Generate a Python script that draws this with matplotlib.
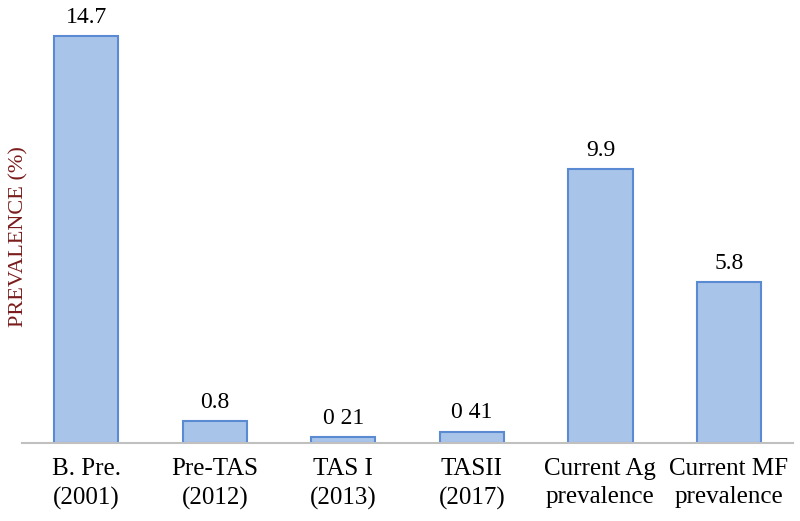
import matplotlib.pyplot as plt
import numpy as np

categories = ['B. Pre.\n(2001)', 'Pre-TAS\n(2012)', 'TAS I\n(2013)', 'TASII\n(2017)',
              'Current Ag\nprevalence', 'Current MF\nprevalence']
values = [14.7, 0.8, 0.21, 0.41, 9.9, 5.8]
value_labels = ['14.7', '0.8', '0 21', '0 41', '9.9', '5.8']

plt.rcParams['font.family'] = ['Liberation Serif', 'DejaVu Serif']

fig = plt.figure(figsize=(8, 5.21), dpi=100)
ax = fig.add_axes([0.0275, 0.1497, 0.964, 0.8503])

x = np.arange(len(categories))
bars = ax.bar(x, values, width=0.5, color='#a9c4e9', edgecolor='#5a8ad2', linewidth=1.5)

for xi, v, lab in zip(x, values, value_labels):
    ax.annotate(lab, (xi, v), xytext=(0, 6), textcoords='offset points',
                ha='center', va='bottom', fontsize=17, color='black')

ax.set_xlim(-0.5, len(categories) - 0.5)
ax.set_ylim(0, 16)
ax.set_yticks([])
ax.set_xticks(x)
ax.set_xticklabels(categories, fontsize=18, linespacing=1.35)
ax.tick_params(axis='x', length=0, pad=11)

for side in ['top', 'right', 'left']:
    ax.spines[side].set_visible(False)
ax.spines['bottom'].set_color('#c0c0c0')
ax.spines['bottom'].set_linewidth(1.5)

fig.text(0.024, 0.545, 'PREVALENCE (%)', rotation=90, ha='center', va='center',
         fontsize=16, color='#7a1c1c')

fig.savefig('out.png', dpi=100)
